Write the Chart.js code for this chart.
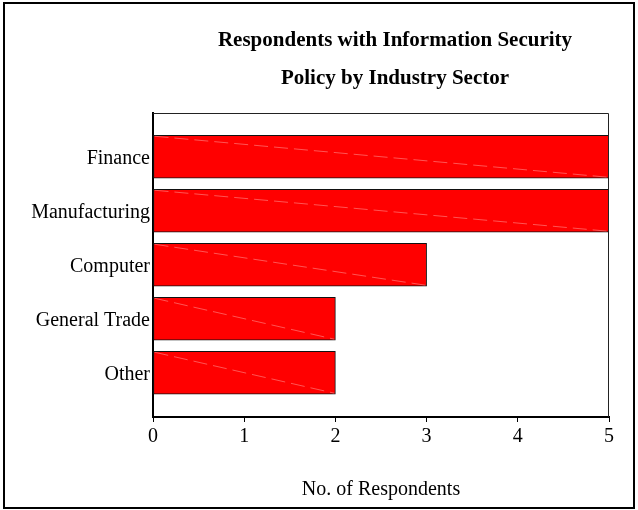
<!DOCTYPE html>
<html>
<head>
<meta charset="utf-8">
<script src="https://cdn.jsdelivr.net/npm/chart.js@4"></script>
<style>
  html, body { margin: 0; padding: 0; background: #fff; }
  #wrap { width: 638px; height: 510px; }
</style>
</head>
<body>
<div id="wrap"><canvas id="c" width="638" height="510"></canvas></div>
<script>
// Industry sectors and how many respondents in each have a security policy
const sectors = ['Finance', 'Manufacturing', 'Computer', 'General Trade', 'Other'];
const respondents = [5, 5, 3, 2, 2];
const xTicks = [0, 1, 2, 3, 4, 5];
const titleLines = ['Respondents with Information Security', 'Policy by Industry Sector'];
const xAxisTitle = 'No. of Respondents';

const SERIF = '"Liberation Serif", "Times New Roman", Times, serif';

// Frame round the whole picture, box round the plot, title and bar sheen
const decorations = {
  id: 'decorations',
  beforeDraw(chart) {
    const ctx = chart.ctx;
    ctx.save();
    ctx.fillStyle = '#fff';
    ctx.fillRect(0, 0, chart.width, chart.height);
    ctx.restore();
  },
  afterDatasetsDraw(chart) {
    const ctx = chart.ctx;
    const meta = chart.getDatasetMeta(0);
    ctx.save();
    ctx.strokeStyle = 'rgba(255,210,210,0.4)';
    ctx.lineWidth = 1;
    ctx.setLineDash([14, 6]);
    meta.data.forEach(bar => {
      const p = bar.getProps(['x', 'y', 'base', 'height'], true);
      const top = p.y - p.height / 2 + 1;
      const bottom = p.y + p.height / 2 - 1;
      ctx.beginPath();
      ctx.moveTo(p.base + 1, top);
      ctx.lineTo(p.x - 1, bottom);
      ctx.stroke();
    });
    ctx.restore();
  },
  afterDraw(chart) {
    const ctx = chart.ctx;
    const a = chart.chartArea;
    ctx.save();
    // plot box: thin top and right edges
    ctx.strokeStyle = '#222';
    ctx.lineWidth = 1;
    ctx.beginPath();
    ctx.moveTo(a.left, a.top + 0.5);
    ctx.lineTo(a.right - 0.5, a.top + 0.5);
    ctx.lineTo(a.right - 0.5, a.bottom);
    ctx.stroke();
    // outer frame
    ctx.strokeStyle = '#000';
    ctx.lineWidth = 2;
    ctx.strokeRect(4, 3, 630, 505);
    // two-line bold title
    ctx.fillStyle = '#000';
    ctx.font = 'bold 21px ' + SERIF;
    ctx.textAlign = 'center';
    ctx.textBaseline = 'alphabetic';
    titleLines.forEach((t, i) => ctx.fillText(t, 395, 46 + i * 38));
    ctx.restore();
  }
};

new Chart(document.getElementById('c'), {
  type: 'bar',
  data: {
    datasets: [{
      data: respondents.map((v, i) => ({ x: v, y: i })),
      backgroundColor: '#ff0000',
      borderColor: '#111',
      borderWidth: 1,
      borderSkipped: false,
      barThickness: 43
    }]
  },
  options: {
    indexAxis: 'y',
    responsive: false,
    devicePixelRatio: 1,
    animation: false,
    events: [],
    layout: { padding: { top: 113, right: 29, left: 0, bottom: 0 } },
    plugins: {
      legend: { display: false },
      title: { display: false },
      tooltip: { enabled: false }
    },
    scales: {
      x: {
        type: 'linear',
        min: xTicks[0],
        max: xTicks[xTicks.length - 1],
        afterBuildTicks: s => { s.ticks = xTicks.map(v => ({ value: v })); },
        afterFit: s => { s.height = 93; },
        grid: {
          drawOnChartArea: false,
          drawTicks: true,
          tickLength: 5,
          color: '#000',
          lineWidth: 1
        },
        border: { display: true, color: '#000', width: 2 },
        ticks: {
          color: '#000',
          padding: 3,
          font: { family: SERIF, size: 20 }
        },
        title: {
          display: true,
          text: xAxisTitle,
          color: '#000',
          font: { family: SERIF, size: 20 },
          padding: { top: 0, bottom: 8 }
        }
      },
      y: {
        type: 'linear',
        reverse: true,
        offset: false,
        min: -0.81,
        max: 4.82,
        afterBuildTicks: s => { s.ticks = sectors.map((_, i) => ({ value: i })); },
        afterFit: s => { s.width = 153; },
        grid: { display: false, drawTicks: false, offset: false },
        border: { display: true, color: '#000', width: 2 },
        ticks: {
          color: '#000',
          padding: 3,
          labelOffset: 2,
          font: { family: SERIF, size: 20 },
          callback: v => sectors[v]
        }
      }
    }
  },
  plugins: [decorations]
});
</script>
</body>
</html>
